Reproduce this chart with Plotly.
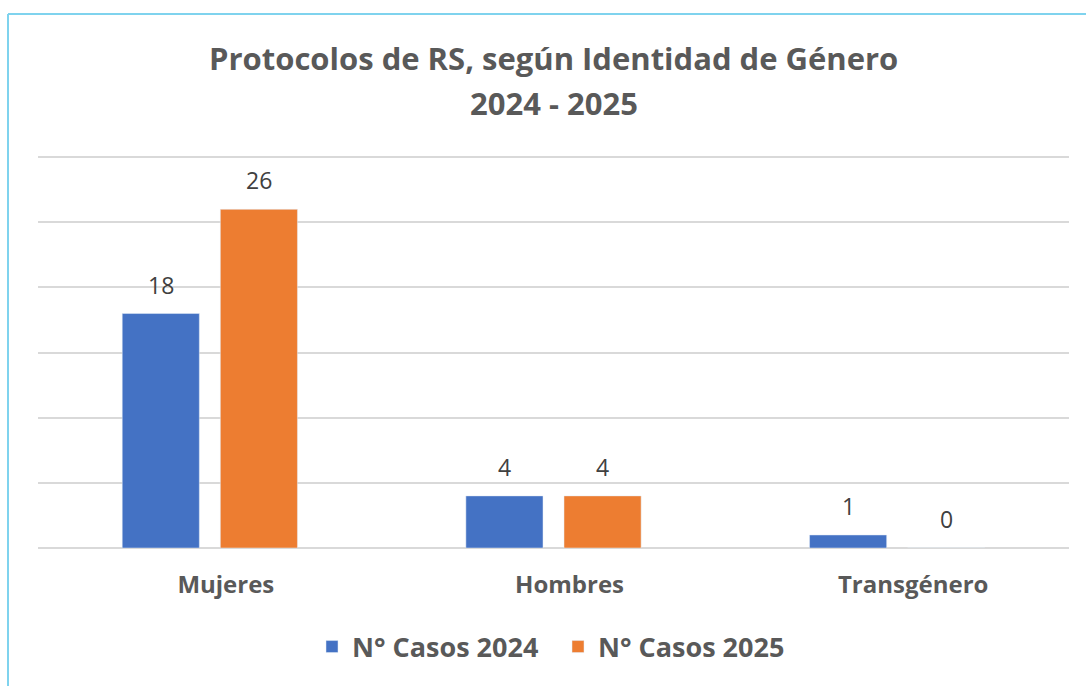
import plotly.graph_objects as go

categories = ["Mujeres", "Hombres", "Transgénero"]
casos_2024 = [18, 4, 1]
casos_2025 = [26, 4, 0]
series_names = ["N° Casos 2024", "N° Casos 2025"]
title_lines = ["Protocolos de RS, según Identidad de Género", "2024 - 2025"]

BLUE = "#4472C4"
ORANGE = "#ED7D31"
FONT = "Open Sans"

PH = 396  # plot height in px

fig = go.Figure()
fig.add_trace(go.Bar(x=categories, y=casos_2024, name=series_names[0], marker_color=BLUE))
fig.add_trace(go.Bar(x=categories, y=casos_2025, name=series_names[1], marker_color=ORANGE))

# data labels
for vals, shift in ((casos_2024, -49), (casos_2025, 49)):
    for c, v in zip(categories, vals):
        fig.add_annotation(x=c, y=v, text=str(v), showarrow=False, xref="x", yref="y",
                           yanchor="bottom", xshift=shift, yshift=11,
                           font=dict(family=FONT, size=23, color="#404040"))

for line, ypx in zip(title_lines, (58, 103)):
    fig.add_annotation(text="<b>" + line + "</b>", xref="paper", yref="paper", x=0.5,
                       y=(548 - ypx) / PH, yanchor="middle", showarrow=False,
                       font=dict(family=FONT, size=31, color="#595959"))

# chart border (light blue)
ytop = (548 - 14) / PH
xleft = -30 / 1031
fig.add_shape(type="line", xref="paper", yref="paper", x0=xleft, x1=1.1, y0=ytop, y1=ytop,
              line=dict(color="#7FD3EE", width=2))
fig.add_shape(type="line", xref="paper", yref="paper", x0=xleft, x1=xleft, y0=ytop, y1=-0.5,
              line=dict(color="#7FD3EE", width=2))

fig.update_layout(
    width=1086, height=686,
    margin=dict(l=38, r=17, t=686 - 138 - PH, b=138),
    paper_bgcolor="white", plot_bgcolor="white",
    barmode="group", bargap=0.429, bargroupgap=0.214,
    showlegend=True,
    legend=dict(orientation="h", x=(312 - 38) / 1031, xanchor="left", y=-(647 - 548) / PH,
                yanchor="middle", entrywidth=201, entrywidthmode="pixels",
                font=dict(family=FONT, size=27, color="#595959", weight="bold"),
                itemwidth=30, traceorder="normal"),
    xaxis=dict(showgrid=False, showline=False, ticks="",
               tickfont=dict(family=FONT, size=24, color="#595959", weight="bold"),
               ticklabelstandoff=20, ticklabelshift=16),
    yaxis=dict(range=[0, 30.4], dtick=5, showgrid=True, gridcolor="#D9D9D9", gridwidth=1.5,
               showticklabels=False, zeroline=True, zerolinecolor="#D9D9D9", zerolinewidth=1.5),
)

fig.write_html("out.html", config={"displayModeBar": False},
               post_script="document.body.style.margin='0';")
